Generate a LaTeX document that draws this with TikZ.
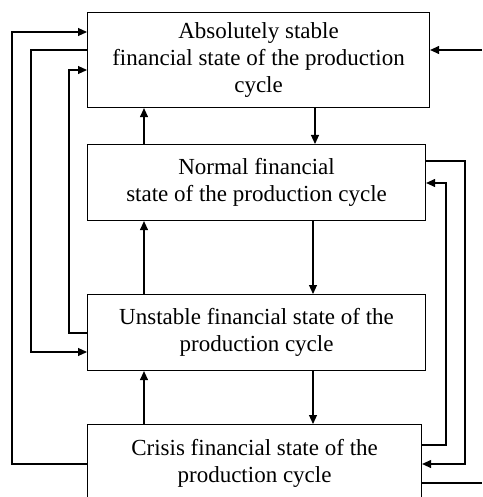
\documentclass[tikz,border=0pt]{standalone}
\usepackage{fontspec}
\setmainfont{Liberation Serif}
\usetikzlibrary{arrows.meta}
\begin{document}
\begin{tikzpicture}[x=1pt,y=-1pt,
  box/.style={draw, line width=1.1pt, rectangle, inner sep=0pt, anchor=north west, align=center,
    font=\fontsize{23}{27}\selectfont},
  conn/.style={line width=1.1pt},
  arr/.style={conn, -{Triangle[length=9pt,width=8pt]}}]
\clip (0,0) rectangle (482,497);
\useasboundingbox (0,0) rectangle (482,497);
\node[box, minimum width=342pt, minimum height=95pt] (b1) at (87,12)
  {Absolutely stable\\financial state of the production\\cycle};
\node[box, minimum width=338pt, minimum height=76pt] (b2) at (87,144)
  {Normal financial\\state of the production cycle};
\node[box, minimum width=338pt, minimum height=76pt] (b3) at (87,294)
  {Unstable financial state of the\\production cycle};
\node[box, minimum width=334pt, minimum height=78pt] (b4) at (87,424)
  {Crisis financial state of the\\production cycle};
\coordinate (rin) at (482,50);
\coordinate (rout) at (482,483);
% vertical arrows
\draw[arr] (b1.south -| 315,0) -- (b2.north -| 315,0);
\draw[arr] (b2.south -| 313,0) -- (b3.north -| 313,0);
\draw[arr] (b3.south -| 313,0) -- (b4.north -| 313,0);
\draw[arr] (b2.north -| 144,0) -- (b1.south -| 144,0);
\draw[arr] (b3.north -| 144,0) -- (b2.south -| 144,0);
\draw[arr] (b4.north -| 144,0) -- (b3.south -| 144,0);
% left loops
\draw[arr] (b4.west |- 0,464) -| (12,32) -- (b1.west |- 0,32);
\draw[arr] (b1.west |- 0,50) -| (31,352) -- (b3.west |- 0,352);
\draw[arr] (b3.west |- 0,333) -| (69,70) -- (b1.west |- 0,70);
% right side
\draw[arr] (rin) -- (b1.east |- rin);
\draw[arr] (b2.east |- 0,161) -| (465,464) -- (b4.east |- 0,464);
\draw[arr] (b4.east |- 0,445) -| (446,183) -- (b2.east |- 0,183);
\draw[conn] (b4.east |- rout) -- (rout);
\end{tikzpicture}
\end{document}
